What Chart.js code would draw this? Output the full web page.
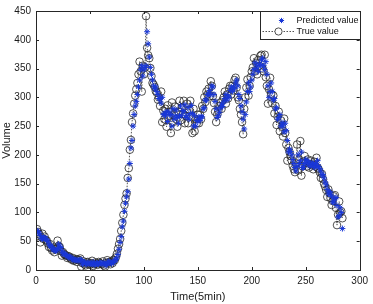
<!DOCTYPE html>
<html>
<head>
<meta charset="utf-8">
<script src="https://cdn.jsdelivr.net/npm/chart.js@4"></script>
<style>
  body { margin: 0; background: #fff; }
  #chart { display: block; }
</style>
</head>
<body>
<canvas id="chart" width="373" height="304"></canvas>
<script>
const xTicks = [0, 50, 100, 150, 200, 250, 300];
const yTicks = [0, 50, 100, 150, 200, 250, 300, 350, 400, 450];

// volume per 5-min step
const trueValue = [
  71, 66, 62, 48, 57, 63, 54, 58, 52, 51,
  46, 40, 45, 38, 34, 39, 31, 36, 37, 51,
  42, 40, 33, 25, 31, 28, 26, 25, 21, 24,
  23, 20, 18, 21, 16, 17, 19, 14, 18, 17,
  20, 6, 12, 15, 10, 8, 13, 14, 11, 9,
  12, 16, 7, 10, 13, 11, 9, 14, 12, 11,
  10, 15, 8, 6, 12, 17, 13, 14, 10, 15,
  12, 18, 17, 22, 28, 37, 45, 54, 68, 82,
  96, 113, 124, 133, 160, 177, 209, 226, 257, 272,
  289, 303, 314, 325, 340, 362, 345, 310, 355, 340,
  352, 441, 386, 373, 368, 351, 337, 325, 322, 318,
  311, 308, 296, 300, 285, 310, 257, 277, 262, 280,
  249, 286, 268, 275, 238, 291, 257, 270, 284, 262,
  249, 275, 294, 260, 282, 271, 294, 255, 268, 289,
  255, 278, 294, 266, 238, 280, 241, 262, 255, 270,
  255, 270, 262, 285, 280, 300, 292, 310, 305, 315,
  302, 328, 320, 302, 290, 275, 257, 270, 277, 285,
  291, 280, 295, 300, 310, 289, 305, 298, 315, 320,
  305, 320, 312, 330, 334, 317, 300, 295, 280, 270,
  257, 236, 280, 300, 317, 331, 303, 320, 335, 345,
  352, 368, 345, 360, 340, 365, 355, 372, 374, 350,
  345, 374, 335, 320, 289, 314, 334, 306, 290, 303,
  272, 285, 252, 266, 275, 241, 260, 249, 232, 263,
  238, 218, 190, 212, 205, 198, 190, 181, 175, 170,
  185, 218, 173, 192, 224, 164, 180, 188, 198, 187,
  180, 192, 178, 184, 190, 182, 175, 188, 180, 195,
  178, 175, 170, 160, 167, 158, 150, 145, 139, 127,
  140, 133, 125, 113, 120, 128, 130, 108, 78, 96,
  119, 100, 102, 90
];

const predictedValue = [
  68, 67, 64, 60, 55, 54, 57, 55, 55, 52,
  50, 45, 42, 42, 38, 35, 36, 33, 34, 36,
  45, 41, 39, 33, 28, 29, 27, 26, 24, 22,
  23, 22, 20, 18, 19, 17, 17, 18, 16, 17,
  17, 18, 10, 12, 14, 11, 10, 12, 13, 11,
  10, 11, 14, 9, 10, 12, 11, 10, 13, 12,
  11, 11, 13, 10, 8, 11, 15, 13, 13, 11,
  14, 13, 17, 18, 21, 27, 36, 48, 58, 75,
  85, 102, 116, 127, 136, 158, 185, 212, 225, 250,
  270, 285, 293, 305, 318, 330, 348, 355, 337, 348,
  352, 355, 414, 393, 370, 352, 340, 330, 320, 315,
  318, 310, 305, 298, 297, 290, 300, 270, 272, 268,
  275, 258, 275, 270, 270, 250, 280, 262, 268, 278,
  265, 255, 268, 285, 268, 277, 275, 287, 265, 268,
  282, 262, 272, 286, 272, 250, 268, 250, 260, 258,
  266, 260, 266, 266, 280, 282, 295, 295, 305, 305,
  312, 305, 320, 318, 305, 293, 280, 265, 268, 274,
  282, 288, 284, 292, 298, 305, 295, 302, 300, 312,
  318, 310, 318, 315, 325, 330, 320, 305, 298, 285,
  275, 262, 245, 270, 292, 310, 325, 310, 318, 330,
  340, 348, 360, 350, 355, 345, 358, 355, 365, 368,
  355, 348, 362, 340, 320, 300, 310, 325, 310, 295,
  298, 280, 282, 262, 265, 270, 250, 256, 250, 240,
  255, 242, 225, 205, 210, 206, 200, 192, 185, 178,
  172, 180, 200, 185, 190, 205, 178, 178, 185, 192,
  190, 184, 188, 180, 183, 186, 184, 178, 185, 182,
  190, 180, 176, 172, 165, 166, 160, 153, 148, 140,
  132, 136, 134, 128, 118, 118, 124, 126, 112, 92,
  94, 108, 100, 72
];

const timeSteps = trueValue.map((_, i) => i + 1);

const BLUE = 'rgb(25,55,215)';
const DARK = '#262626';

Chart.defaults.font.family = '"Liberation Sans", Arial, sans-serif';
Chart.defaults.color = '#1a1a1a';

function drawAsterisk(ctx, cx, cy, r) {
  ctx.beginPath();
  for (let k = 0; k < 4; k++) {
    const ang = k * Math.PI / 4;
    ctx.moveTo(cx - r * Math.cos(ang), cy - r * Math.sin(ang));
    ctx.lineTo(cx + r * Math.cos(ang), cy + r * Math.sin(ang));
  }
  ctx.stroke();
}

// matlab style box with inward ticks + legend
const framePlugin = {
  id: 'frame',
  afterDraw(chart) {
    const { ctx, chartArea: a, scales: { x, y } } = chart;
    ctx.save();
    ctx.strokeStyle = DARK;
    ctx.lineWidth = 1;
    ctx.beginPath();
    xTicks.forEach(v => {
      const px = Math.round(x.getPixelForValue(v)) + 0.5;
      ctx.moveTo(px, a.bottom); ctx.lineTo(px, a.bottom - 3);
      ctx.moveTo(px, a.top); ctx.lineTo(px, a.top + 3);
    });
    yTicks.forEach(v => {
      const py = Math.round(y.getPixelForValue(v)) + 0.5;
      ctx.moveTo(a.left, py); ctx.lineTo(a.left + 3, py);
      ctx.moveTo(a.right, py); ctx.lineTo(a.right - 3, py);
    });
    ctx.stroke();
    ctx.strokeRect(Math.round(a.left) + 0.5, Math.round(a.top) + 0.5,
      Math.round(a.right - a.left), Math.round(a.bottom - a.top));

    // legend box
    const bw = 100, bh = 28;
    const bx = Math.round(a.right) - bw + 0.5, by = Math.round(a.top) + 0.5;
    ctx.fillStyle = '#fff';
    ctx.fillRect(bx, by, bw, bh);
    ctx.strokeStyle = DARK;
    ctx.strokeRect(bx, by, bw, bh);

    ctx.strokeStyle = BLUE;
    ctx.lineWidth = 1;
    drawAsterisk(ctx, bx + 21, by + 9, 2.6);

    ctx.strokeStyle = DARK;
    ctx.lineWidth = 0.8;
    ctx.setLineDash([1.5, 1.5]);
    ctx.beginPath();
    ctx.moveTo(bx + 2, by + 20);
    ctx.lineTo(bx + 35, by + 20);
    ctx.stroke();
    ctx.setLineDash([]);
    ctx.beginPath();
    ctx.arc(bx + 18, by + 20, 3.6, 0, Math.PI * 2);
    ctx.fillStyle = '#fff';
    ctx.fill();
    ctx.stroke();

    ctx.fillStyle = '#111';
    ctx.font = '9px "Liberation Sans", Arial, sans-serif';
    ctx.textBaseline = 'middle';
    ctx.textAlign = 'left';
    ctx.fillText('Predicted value', bx + 36, by + 9);
    ctx.fillText('True value', bx + 36, by + 20);
    ctx.restore();
  }
};

new Chart(document.getElementById('chart'), {
  type: 'line',
  data: {
    labels: timeSteps,
    datasets: [
      {
        label: 'Predicted value',
        data: predictedValue,
        showLine: false,
        pointStyle: 'star',
        pointRadius: 3,
        pointBorderColor: BLUE,
        pointBackgroundColor: BLUE,
        pointBorderWidth: 1
      },
      {
        label: 'True value',
        data: trueValue,
        borderColor: DARK,
        borderWidth: 0.8,
        borderDash: [1.5, 1.5],
        tension: 0,
        pointStyle: 'circle',
        pointRadius: 3.8,
        pointBorderColor: DARK,
        pointBackgroundColor: 'rgba(0,0,0,0)',
        pointBorderWidth: 0.8
      }
    ]
  },
  options: {
    responsive: false,
    animation: false,
    devicePixelRatio: 1,
    layout: { padding: { top: 5, right: 11, left: 0, bottom: 0 } },
    plugins: {
      legend: { display: false },
      tooltip: { enabled: false }
    },
    scales: {
      x: {
        type: 'linear',
        min: 0,
        max: 300,
        afterBuildTicks: s => { s.ticks = xTicks.map(v => ({ value: v })); },
        afterFit: s => { s.height = 34; },
        grid: { display: false, drawTicks: false },
        border: { display: false },
        ticks: { padding: 5, font: { size: 10 }, color: '#1a1a1a' },
        title: { display: true, text: 'Time(5min)', font: { size: 11 }, padding: 0, color: '#1a1a1a' }
      },
      y: {
        min: 0,
        max: 450,
        afterBuildTicks: s => { s.ticks = yTicks.map(v => ({ value: v })); },
        afterFit: s => { s.width = 36; },
        grid: { display: false, drawTicks: false },
        border: { display: false },
        ticks: { padding: 5, font: { size: 10 }, color: '#1a1a1a' },
        title: { display: true, text: 'Volume', font: { size: 11 }, padding: 0, color: '#1a1a1a' }
      }
    }
  },
  plugins: [framePlugin]
});
</script>
</body>
</html>
